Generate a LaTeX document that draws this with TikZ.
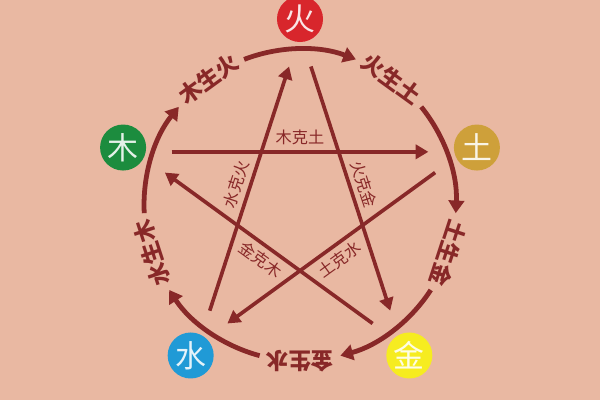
\documentclass[tikz,border=0pt]{standalone}
\usepackage{fontspec}
\newfontfamily\cjk{Noto Sans CJK SC}
\usetikzlibrary{arrows.meta}

\definecolor{bgpink}{RGB}{233,184,162}
\definecolor{linered}{RGB}{136,40,40}
\definecolor{huocol}{RGB}{216,38,44}
\definecolor{tucol}{RGB}{206,160,58}
\definecolor{jincol}{RGB}{246,236,32}
\definecolor{shuicol}{RGB}{32,154,214}
\definecolor{mucol}{RGB}{28,140,62}

\tikzset{
	element/.style={circle, minimum size=1.15cm, inner sep=0pt, font=\cjk\fontsize{22}{22}\selectfont},
	shengline/.style={draw=linered, line width=3.4pt, -{Triangle[length=9pt,width=11pt]}},
	keline/.style={draw=linered, line width=2.6pt, -{Triangle[length=9pt,width=10pt]}},
	shenglabel/.style={text=linered, inner sep=0pt, font=\cjk\bfseries\fontsize{16}{16}\selectfont},
	kelabel/.style={text=linered, sloped, inner sep=3.5pt, font=\cjk\fontsize{11.5}{11.5}\selectfont}
}

\begin{document}
\begin{tikzpicture}[scale=0.025]
		%background
			\useasboundingbox (-300,-195) rectangle (300,205);
			\clip (-300,-195) rectangle (300,205);
			\fill[bgpink] (-300,-195) rectangle (300,205);
		%elements + star corners
			\foreach \ang/\name/\txt/\col in {90/huo/火/huocol, 18/tu/土/tucol, -54/jin/金/jincol, 234/shui/水/shuicol, 162/mu/木/mucol}
			{
				\node[element, fill=\col, text=\col!12!white] (\name) at (\ang:186) {\txt};
				\coordinate (\name-l) at (\ang+4.5:139);
				\coordinate (\name-r) at (\ang-4.5:139);
			}
		%outer circle + labels
			\foreach \lab/\txt/\nm in {126/木生火/musheng, 54/火生土/huosheng, -18/土生金/tusheng, -90/金生水/jinsheng, -162/水生木/shuisheng}
			{
				\node[shenglabel, rotate=\lab-90] (\nm) at (\lab:156) {\txt};
				\coordinate (\nm-s) at (\lab-15:156);
				\draw[shengline] (\nm-s) arc[start angle=\lab-15, end angle=\lab-57, radius=156];
			}
		%star
			\draw[keline] (shui-r) -- node[kelabel, above] {水克火} (huo-l);
			\draw[keline] (huo-r) -- node[kelabel, above] {火克金} (jin-l);
			\draw[keline] (mu-r) -- node[kelabel, above] {木克土} (tu-l);
			\draw[keline] (tu-r) -- node[kelabel, below] {土克水} (shui-l);
			\draw[keline] (jin-r) -- node[kelabel, below] {金克木} (mu-l);
	\end{tikzpicture}
\end{document}
